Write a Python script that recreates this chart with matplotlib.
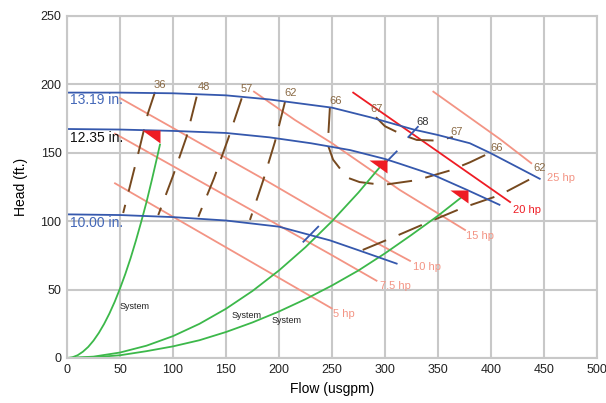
import numpy as np
import matplotlib
matplotlib.use("Agg")
import matplotlib.pyplot as plt

plt.rcParams['font.family'] = ['Liberation Sans', 'DejaVu Sans']

# pump curves (flow usgpm, head ft)
flow_1319 = [0, 50, 100, 150, 191, 250, 286, 327, 350, 380, 399, 446]
head_1319 = [194, 194, 193.5, 192, 189, 183, 176, 167, 163, 157, 150, 131]
flow_1235 = [0, 50, 100, 150, 191, 230, 267, 300, 314, 345, 377, 408]
head_1235 = [167.4, 167, 166, 164.5, 161.3, 157, 152, 145.5, 142, 134, 123, 112]
flow_1000 = [0, 50, 100, 150, 200, 248, 276, 311]
head_1000 = [105, 104.5, 103, 100.5, 96, 86, 78.5, 69]

# BEP ticks
bep_flow = [[322, 331], [297, 311], [223, 237]]
bep_head = [[161.5, 169], [140, 151], [85, 96]]

# power lines
hp_names = ['25 hp', '20 hp', '15 hp', '10 hp', '7.5 hp', '5 hp']
hp_flow = [[345.6, 408.5, 438], [270, 345, 418], [176.4, 215, 250, 314, 375.5],
           [50, 182, 248, 323.6], [45.3, 248, 292], [45.3, 249.7]]
hp_head = [[194.7, 160, 142.4], [194, 153.5, 114], [194.7, 174, 157, 122.8, 93.6],
           [190, 132.3, 102.5, 71], [164, 76, 56.5], [127.7, 36.3]]
hp_label_flow = [452.5, 420.5, 376.4, 326, 295.3, 251]
hp_label_head = [131.4, 108.2, 89.2, 66.7, 52.9, 32.2]

# efficiency contours
eff_flow = [[83, 76.4, 68, 53],
            [122.3, 112.9, 100.3, 86.1],
            [164.8, 152.2, 138.7, 123.9],
            [205.7, 196.2, 185.2, 172.6],
            [248, 246, 251, 264, 276, 298, 330, 361, 380, 399],
            [291.5, 300, 317, 330, 349, 364],
            [279, 307, 340, 374, 408, 440]]
eff_head = [[194.4, 179, 152, 106],
            [191, 162, 133.8, 104.5],
            [189.8, 160.6, 131.4, 103.3],
            [187.4, 158.1, 130.1, 100.9],
            [183, 156, 145, 132, 128.6, 126.5, 130, 137, 143, 150],
            [176, 169.4, 163, 159.4, 158.9, 161.5],
            [79, 88, 99, 110, 119, 132]]
eff_labels = ['36', '48', '57', '62', '66', '67', '68', '67', '66', '62']
eff_label_flow = [87.7, 129.5, 170, 211, 253.8, 292, 335.5, 367.6, 405, 445.6]
eff_label_head = [199.6, 198.3, 196.4, 193.5, 187.9, 181.8, 172.7, 165.5, 153.3, 138.7]

# system curves
sys1_flow = [0, 5, 10, 15, 20, 25, 30, 35, 40, 45, 50, 55, 60, 65, 70, 75, 80, 85, 87.7]
sys1_head = [0, 0.5, 2, 4.6, 8.1, 12.7, 18.3, 24.9, 32.5, 41.1, 50.8, 61.4, 73, 85.8,
             99.5, 114, 130, 146.7, 156]
sys2_flow = [0, 25, 50, 75, 100, 125, 150, 175, 200, 225, 250, 275, 300]
sys2_head = [0, 1, 4, 9, 16, 25, 36, 49, 64, 81, 100, 121, 144]
sys3_flow = [0, 25, 50, 75, 100, 125, 150, 175, 200, 225, 250, 275, 300, 325, 350, 373]
sys3_head = [0, 0.5, 2, 5, 8.5, 13, 19, 26, 34, 43, 53, 64, 76.5, 90, 104, 118]
sys_label_flow = [49.4, 155.4, 192.5]
sys_label_head = [38, 31.4, 27.3]

# operating points
op_flow = [88, 302, 378]
op_head = [167, 145, 122.5]

blue = '#3558ad'
salmon = '#f39484'
red = '#ee1c24'
green = '#3cb84a'
brown = '#76491f'
brown_txt = '#8a6a45'
grid = '#c8c8c8'

fig = plt.figure(figsize=(6.06, 4.03), dpi=100)
ax = fig.add_axes([67/606, 45/403, 530/606, 342/403])

ax.set_xlim(0, 500)
ax.set_ylim(0, 250)
ax.set_xticks(range(0, 501, 50))
ax.set_yticks(range(0, 251, 50))
ax.grid(color=grid, lw=1.5)
ax.set_axisbelow(True)
for s in ax.spines.values():
    s.set_color(grid)
    s.set_linewidth(1.5)
ax.tick_params(length=0, labelsize=9, colors='#222222', pad=4)

for i in range(len(hp_names)):
    c = red if hp_names[i] == '20 hp' else salmon
    ax.plot(hp_flow[i], hp_head[i], c=c, lw=1.3)
    ax.text(hp_label_flow[i], hp_label_head[i], hp_names[i], color=c, fontsize=8,
            va='center', ha='left')

for f, h in zip(eff_flow, eff_head):
    ax.plot(f, h, c=brown, lw=1.4, ls=(0, (13, 7)))
for i in range(len(eff_labels)):
    c = '#333333' if eff_labels[i] == '68' else brown_txt
    ax.text(eff_label_flow[i], eff_label_head[i], eff_labels[i], color=c, fontsize=8,
            ha='center', va='center')

ax.plot(sys1_flow, sys1_head, c=green, lw=1.3)
ax.plot(sys2_flow, sys2_head, c=green, lw=1.3)
ax.plot(sys3_flow, sys3_head, c=green, lw=1.3)
for x, y in zip(sys_label_flow, sys_label_head):
    ax.text(x, y, 'System', fontsize=6.5, color='#222222', va='center', ha='left')

ax.plot(flow_1319, head_1319, c=blue, lw=1.3)
ax.plot(flow_1235, head_1235, c=blue, lw=1.3)
ax.plot(flow_1000, head_1000, c=blue, lw=1.3)
for f, h in zip(bep_flow, bep_head):
    ax.plot(f, h, c=blue, lw=1.3)

ax.text(3, 188.6, '13.19 in.', color='#4468b8', fontsize=10, va='center')
ax.text(3, 160.6, '12.35 in.', color='#111111', fontsize=10, va='center')
ax.text(3, 98.5, '10.00 in.', color='#4468b8', fontsize=10, va='center')

tri = [(-1, 0), (0, 0), (0, -0.72), (-1, 0)]
ax.plot(op_flow, op_head, ls='none', marker=tri, ms=26, mfc=red, mec='none')

ax.set_xlabel('Flow (usgpm)', fontsize=10, labelpad=5)
ax.set_ylabel('Head (ft.)', fontsize=10, labelpad=9)

fig.savefig('out.png', dpi=100)
